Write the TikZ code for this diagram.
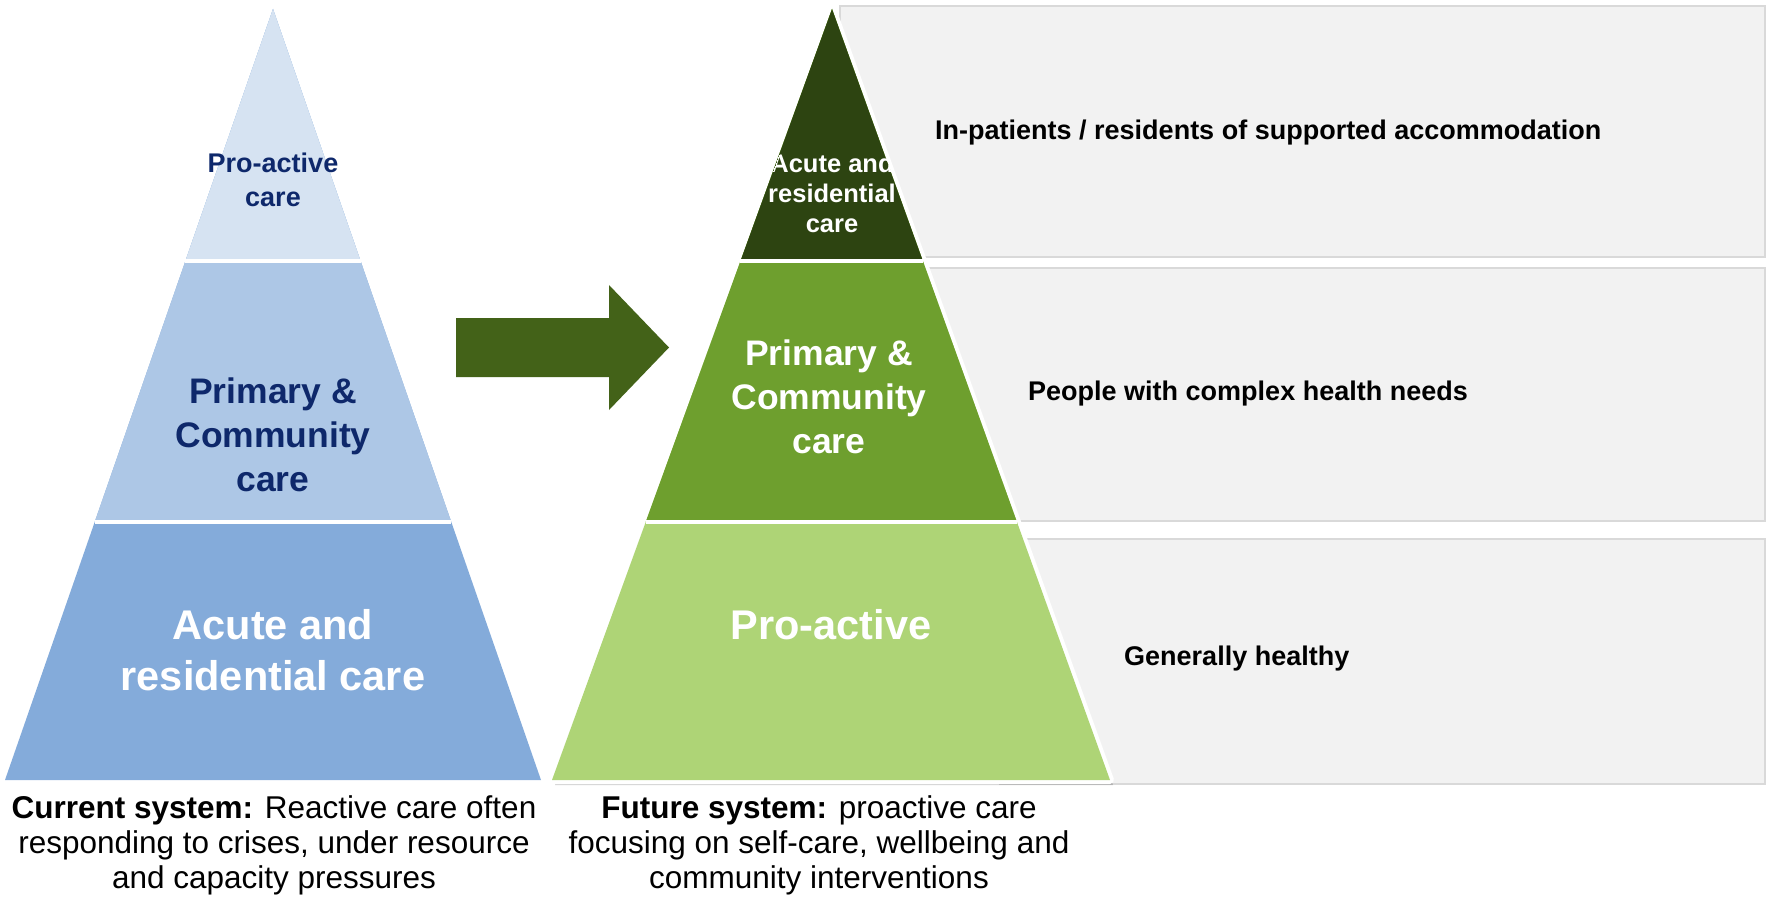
\documentclass[tikz,border=0pt]{standalone}
\usepackage{fontspec}
\setmainfont{Liberation Sans}
\usepackage{tikz}
\usetikzlibrary{
  positioning,
  calc
}
\definecolor{curTop}{RGB}{214,227,242}
\definecolor{curMid}{RGB}{173,199,230}
\definecolor{curBot}{RGB}{132,171,218}
\definecolor{navy}{RGB}{14,40,107}
\definecolor{futTop}{RGB}{45,68,17}
\definecolor{futMid}{RGB}{110,159,46}
\definecolor{futBot}{RGB}{174,212,118}
\definecolor{shiftgreen}{RGB}{67,98,24}
\definecolor{bandfill}{RGB}{242,242,242}
\definecolor{bandline}{RGB}{217,217,217}
\providecommand{\tsize}[2]{\fontsize{#1}{#2}\selectfont}
\providecommand{\tfont}[2]{\fontsize{#1}{#2}\selectfont\bfseries}
\tikzset{
  band/.style={fill=bandfill, draw=bandline, line width=2.5},
  tiergap/.style={white, line width=4},
  tierlabel/.style={align=center, inner sep=0},
  bandlabel/.style={anchor=west, inner sep=0, font=\tfont{27}{32}},
  caption/.style={align=center, inner sep=0, font=\tsize{31.5}{35}}
}

\begin{document}
\begin{tikzpicture}[x=1pt,y=-1pt]
  \useasboundingbox (0,0) rectangle (1767,899);
  % grey bands behind the future pyramid
  \draw[band] (840,6) rectangle (1765,257);
  \draw[band] (880,268) rectangle (1765,521);
  \draw[band] (1000,539) rectangle (1765,784);
  \node (inpat) [bandlabel] at (935,133) {In-patients / residents of supported accommodation};
  \node (complex) [bandlabel] at (1028,394) {People with complex health needs};
  \node (healthy) [bandlabel] at (1124,659) {Generally healthy};

  % current system
  \coordinate (cA) at (273,9);
  \coordinate (cL) at (5,780);
  \coordinate (cR) at (541,780);
  \foreach \f/\c in {1/curBot,.665/curMid,.327/curTop}
    \fill[\c] (cA) -- ($(cA)!\f!(cL)$) -- ($(cA)!\f!(cR)$) -- cycle;
  \foreach \f in {.327,.665}
    \draw[tiergap] ($(cA)!\f!(cL)$) -- ($(cA)!\f!(cR)$);
  \node (curTopTxt) [tierlabel, text=navy, font=\tfont{27}{34}] at (273,180) {Pro-active\\care};
  \node (curMidTxt) [tierlabel, text=navy, font=\tfont{35.5}{44}] at (273,435) {Primary \&\\Community\\care};
  \node (curBotTxt) [tierlabel, text=white, font=\tfont{41.5}{51}] at (273,650) {Acute and\\residential care};

  % shift arrow
  \fill[shiftgreen] (456,318) -- (609,318) -- (609,285) -- (669,347.5)
    -- (609,410) -- (609,377) -- (456,377) -- cycle;

  % future system
  \coordinate (fA) at (832,9);
  \coordinate (fL) at (552,780);
  \coordinate (fR) at (1110,780);
  \fill[black, opacity=.18] ([shift={(3,5)}]fA) -- ([shift={(3,5)}]fL) -- ([shift={(3,5)}]fR) -- cycle;
  \draw[white, line width=8, line join=round] (fA) -- (fL) -- (fR) -- cycle;
  \foreach \f/\c in {1/futBot,.665/futMid,.327/futTop}
    \fill[\c] (fA) -- ($(fA)!\f!(fL)$) -- ($(fA)!\f!(fR)$) -- cycle;
  \foreach \f in {.327,.665}
    \draw[tiergap] ($(fA)!\f!(fL)$) -- ($(fA)!\f!(fR)$);
  \begin{scope}
    \clip (fA) -- ($(fA)!.327!(fL)$) -- ($(fA)!.327!(fR)$) -- cycle;
    \node (futTopTxt) [tierlabel, text=white, font=\tfont{25.5}{30}] at (832,193) {Acute and\\residential\\care};
  \end{scope}
  \node (futMidTxt) [tierlabel, text=white, font=\tfont{35.5}{44}] at (829,397) {Primary \&\\Community\\care};
  \node (futBotTxt) [tierlabel, text=white, font=\tfont{41.5}{51}] at (831,625) {Pro-active};

  % captions
  \node (curCap) [caption] at (274,845) {\textbf{Current system:} Reactive care often\\responding to crises, under resource\\and capacity pressures};
  \node (futCap) [caption] at (819,845) {\textbf{Future system:} proactive care\\focusing on self-care, wellbeing and\\community interventions};
\end{tikzpicture}
\end{document}
